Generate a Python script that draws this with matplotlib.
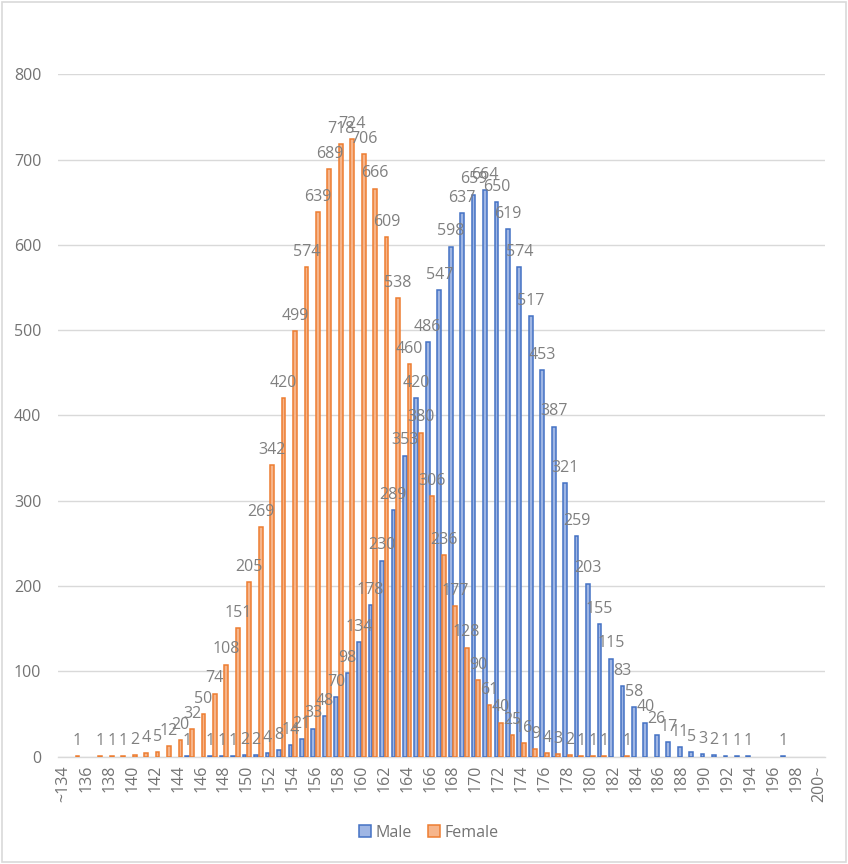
import numpy as np
import matplotlib
matplotlib.use('Agg')
from matplotlib import pyplot as plt
from matplotlib.patches import Rectangle

plt.rcParams['font.family'] = ['Open Sans', 'DejaVu Sans']

# height classes (cm)
categories = ['~134'] + [str(h) for h in range(135, 200)] + ['200~']

male = [0,
        0, 0, 0, 0, 0, 0, 0, 0, 0, 0,          # 135-144
        1, 0, 1, 1, 1, 2, 2, 4, 8, 14,         # 145-154
        21, 33, 48, 70, 98, 134, 178, 230, 289, 353,   # 155-164
        420, 486, 547, 598, 637, 659, 664, 650, 619, 574,  # 165-174
        517, 453, 387, 321, 259, 203, 155, 115, 83, 58,    # 175-184
        40, 26, 17, 11, 5, 3, 2, 1, 1, 1,      # 185-194
        0, 0, 1, 0, 0,                         # 195-199
        0]

female = [0,
          1, 0, 1, 1, 1, 2, 4, 5, 12, 20,      # 135-144
          32, 50, 74, 108, 151, 205, 269, 342, 420, 499,   # 145-154
          574, 639, 689, 718, 724, 706, 666, 609, 538, 460,  # 155-164
          380, 306, 236, 177, 128, 90, 61, 40, 25, 16,       # 165-174
          9, 4, 3, 2, 1, 1, 1, 0, 1, 0,        # 175-184
          0, 0, 0, 0, 0, 0, 0, 0, 0, 0,        # 185-194
          0, 0, 0, 0, 0,                       # 195-199
          0]

series = [('Male', male, '#9fb6e4', '#4472c4'),
          ('Female', female, '#f6b58b', '#ed7d31')]

fig = plt.figure(figsize=(8.48, 8.64), dpi=100)
ax = fig.add_axes([0.0684, 0.1242, 0.9045, 0.7898])

xs = np.arange(len(categories))
w = 0.33
offs = [-0.2, 0.2]

for (name, vals, fc, ec), off in zip(series, offs):
    # empty classes get no outline (Excel draws nothing there)
    edges = [ec if v else 'none' for v in vals]
    bars = ax.bar(xs + off, vals, width=w, color=fc, edgecolor=edges, linewidth=1.1,
                  zorder=3)
    bars.set_label(name)
    for x, v in zip(xs, vals):
        if v:
            ax.annotate(str(v), (x + off, v), xytext=(0, 8), textcoords='offset points',
                        ha='center', va='baseline', fontsize=11.5, color='#808080',
                        zorder=4)

ax.set_xlim(-0.5, len(categories) - 0.5)
ax.set_ylim(0, 800)
ax.set_yticks(range(0, 801, 100))
ax.yaxis.grid(True, color='#d9d9d9', linewidth=1.0, zorder=0)
ax.set_axisbelow(True)

ax.set_xticks(xs[::2])
ax.set_xticklabels(categories[::2], rotation=90, va='top', ha='center')

for s in ['top', 'right', 'left']:
    ax.spines[s].set_visible(False)
ax.spines['bottom'].set_color('#d9d9d9')
ax.spines['bottom'].set_linewidth(1.0)
ax.tick_params(axis='both', length=0, labelsize=11.5, colors='#737373')
ax.tick_params(axis='y', pad=12)
ax.tick_params(axis='x', pad=6)

handles = [Rectangle((0, 0), 1, 1, facecolor=fc, edgecolor=ec, linewidth=1.1)
           for _, _, fc, ec in series]
fig.legend(handles, [s[0] for s in series], loc='center', bbox_to_anchor=(0.506, 0.036),
           ncol=2, frameon=False, fontsize=11.5, handlelength=0.75, handleheight=0.75,
           handletextpad=0.3, columnspacing=1.0, labelcolor='#737373')

fig.patches.append(Rectangle((0.002, 0.002), 0.996, 0.996, transform=fig.transFigure,
                             fill=False, edgecolor='#d9d9d9', linewidth=1.2))

fig.savefig('out.png', dpi=100)
